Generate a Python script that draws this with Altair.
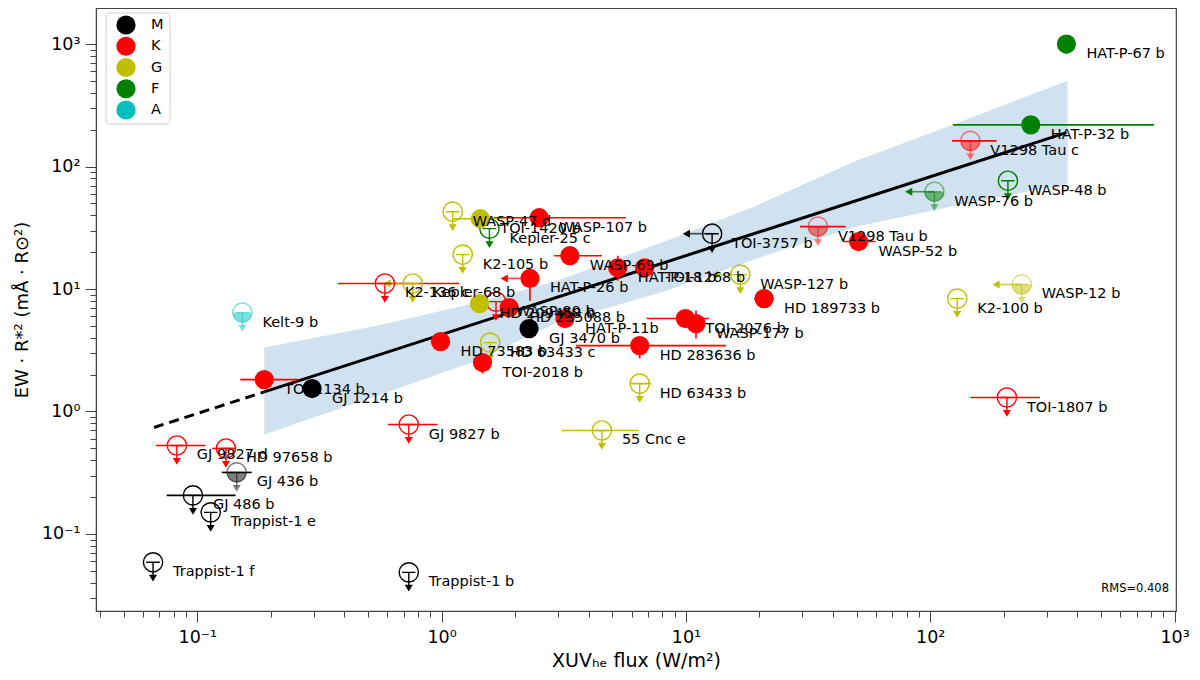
import altair as alt
import pandas as pd

# planets: name, XUV flux (W/m2), EW*R^2, stellar type, kind of point
names = ["HAT-P-67 b", "HAT-P-32 b", "V1298 Tau c", "WASP-48 b", "WASP-76 b",
         "TOI-3757 b", "V1298 Tau b", "WASP-52 b", "WASP-127 b", "HD 189733 b",
         "WASP-12 b", "K2-100 b", "TOI-1807 b", "55 Cnc e", "HD 63433 b",
         "HD 283636 b", "TOI-2076 b", "WASP-177 b", "HAT-P-11b", "HD 235088 b",
         "WASP-80 b", "HD 209458 b", "GJ 3470 b", "HD 73583 b", "HD 63433 c",
         "TOI-2018 b", "WASP-107 b", "TOI-1420 b", "WASP-47 d", "Kepler-25 c",
         "K2-105 b", "HAT-P-26 b", "WASP-69 b", "HAT-P-18 b", "TOI-1268 b",
         "K2-136 c", "Kepler-68 b", "Kelt-9 b", "TOI-1134 b", "GJ 1214 b",
         "GJ 9827 b", "GJ 9827 d", "HD 97658 b", "GJ 436 b", "GJ 486 b",
         "Trappist-1 e", "Trappist-1 f", "Trappist-1 b"]
flux = [361, 258, 146, 208, 104,
        12.8, 34.7, 50.9, 16.7, 20.9,
        237, 129, 206, 4.53, 6.47,
        6.47, 9.95, 11.0, 3.20, 1.89,
        1.67, 1.43, 2.28, 0.99, 1.58,
        1.47, 2.51, 1.44, 1.11, 1.57,
        1.22, 2.30, 3.35, 5.26, 6.78,
        0.586, 0.762, 0.153, 0.188, 0.295,
        0.734, 0.0825, 0.131, 0.145, 0.096,
        0.1135, 0.0659, 0.734]
ew = [1000, 219, 162, 76.6, 62.3,
      28.3, 32.3, 24.4, 13.1, 8.35,
      10.9, 8.35, 1.30, 0.700, 1.69,
      3.45, 5.74, 5.22, 5.74, 7.05,
      7.89, 7.60, 4.75, 3.72, 3.65,
      2.51, 38.2, 37.5, 42.8, 31.1,
      19.1, 12.2, 18.7, 14.9, 14.9,
      11.1, 11.1, 6.42, 1.82, 1.54,
      0.783, 0.528, 0.499, 0.318, 0.2065,
      0.150, 0.0587, 0.0486]
stype = ["F", "F", "K", "F", "F",
         "M", "K", "K", "G", "K",
         "G", "G", "K", "G", "G",
         "K", "K", "K", "K", "K",
         "K", "G", "M", "K", "G",
         "K", "K", "G", "G", "F",
         "G", "K", "K", "K", "K",
         "K", "G", "A", "K", "M",
         "K", "K", "K", "M", "M",
         "M", "M", "M"]
# det = detection, ul = upper limit, ulh = upper limit (half filled, faded)
kind = ["det", "det", "ulh", "ul", "ulh",
        "ul", "ulh", "det", "ul", "det",
        "ulh", "ul", "ul", "ul", "ul",
        "det", "det", "det", "det", "det",
        "ul", "det", "det", "det", "ul",
        "det", "det", "det", "ul", "ul",
        "ul", "det", "det", "det", "det",
        "ul", "ul", "ulh", "det", "det",
        "ul", "ul", "ul", "ulh", "ul",
        "ul", "ul", "ul"]
# flux given only as an upper limit (left arrow)
flux_lim = ["HAT-P-26 b", "TOI-3757 b", "WASP-127 b", "WASP-76 b", "WASP-12 b", "Kepler-68 b"]
# horizontal error bars
xerr_names = ["HAT-P-32 b", "V1298 Tau c", "V1298 Tau b", "WASP-52 b", "HD 189733 b",
              "TOI-1807 b", "55 Cnc e", "HD 63433 b", "HD 283636 b", "TOI-2076 b",
              "WASP-107 b", "TOI-1420 b", "WASP-69 b", "K2-136 c", "TOI-1134 b",
              "GJ 9827 b", "GJ 9827 d", "HD 97658 b", "GJ 436 b", "GJ 486 b"]
xerr_lo = [124, 123, 29.3, 43.8, 19.0,
           146, 3.11, 5.89, 3.55, 6.9,
           1.64, 1.11, 2.89, 0.377, 0.150,
           0.603, 0.0678, 0.115, 0.126, 0.075]
xerr_hi = [825, 187, 45.0, 59.7, 22.9,
           281, 6.41, 7.23, 14.6, 12.4,
           5.67, 1.77, 4.53, 1.18, 0.259,
           0.963, 0.108, 0.1435, 0.167, 0.1435]
# vertical error bars
yerr_names = ["HAT-P-67 b", "HD 283636 b", "WASP-177 b", "HAT-P-11b", "TOI-2018 b",
              "HAT-P-26 b", "HAT-P-18 b"]
yerr_lo = [830, 2.71, 3.94, 4.9, 2.04, 8.0, 11.7]
yerr_hi = [1100, 4.01, 6.67, 6.6, 3.0, 13.5, 18.7]

# fitted relation and its confidence band
fit_dash_x = [0.0665, 0.188]
fit_dash_y = [0.74, 1.445]
fit_x = [0.188, 361]
fit_y = [1.445, 189]
band_x = [0.188, 0.549, 1.40, 2.97, 8.33, 19.4, 49.5, 126, 365]
band_hi = [3.33, 5.03, 7.75, 11.7, 24.8, 47.9, 111, 223, 501]
band_lo = [0.649, 1.35, 2.61, 5.32, 9.70, 17.7, 32.3, 47.9, 72.4]

types = ["M", "K", "G", "F", "A"]
type_colors = ["black", "red", "#bfbf00", "green", "#00bfbf"]

df = pd.DataFrame({"name": names, "flux": flux, "ew": ew, "stype": stype, "kind": kind})
df["alpha"] = [0.5 if k == "ulh" else 1.0 for k in kind]
df["hex"] = df["stype"].map(dict(zip(types, type_colors)))
xerr = pd.DataFrame({"name": xerr_names, "lo": xerr_lo, "hi": xerr_hi}).merge(df, on="name")
yerr = pd.DataFrame({"name": yerr_names, "lo": yerr_lo, "hi": yerr_hi}).merge(df, on="name")
lims = df[df["name"].isin(flux_lim)]
ul = df[df["kind"] != "det"]
ulh = df[df["kind"] == "ulh"]
det = df[df["kind"] == "det"]
band = pd.DataFrame({"bx": band_x, "bhi": band_hi, "blo": band_lo})
fit_d = pd.DataFrame({"fx": fit_dash_x, "fy": fit_dash_y})
fit_s = pd.DataFrame({"fx": fit_x, "fy": fit_y})
leg = pd.DataFrame({"stype": types, "hex": type_colors})

xs = alt.Scale(type="log", domain=[0.0385, 1014], nice=False)
ys = alt.Scale(type="log", domain=[0.0235, 1970], nice=False)
S = 370  # marker size, radius = sqrt(S)/2

major = "abs(log(datum.value)/LN10 - round(log(datum.value)/LN10)) < 0.001"
lab = ("abs(datum.value-0.1)<0.000001 ? '10⁻¹' : abs(datum.value-1)<0.000001 ? '10⁰' : "
       "abs(datum.value-10)<0.000001 ? '10¹' : abs(datum.value-100)<0.000001 ? '10²' : "
       "abs(datum.value-1000)<0.000001 ? '10³' : ''")
ticksz = {"condition": {"test": major, "value": 11}, "value": 6}
xticks = [m * 10.0 ** d for d in range(-2, 4) for m in range(1, 10) if 0.0385 <= m * 10.0 ** d <= 1014]
yticks = [m * 10.0 ** d for d in range(-2, 4) for m in range(1, 10) if 0.0235 <= m * 10.0 ** d <= 1970]

x_axis = alt.Axis(values=xticks, labelExpr=lab, tickSize=ticksz, labelFlush=False,
                  labelOverlap=False, labelFontSize=17.5, labelPadding=6,
                  title="XUVₕₑ flux (W/m²)", titleFontSize=19, titlePadding=6)
y_axis = alt.Axis(values=yticks, labelExpr=lab, tickSize=ticksz, labelFlush=False,
                  labelOverlap=False, labelFontSize=17.5, labelPadding=5,
                  title="EW · R*² (mÅ · R⊙²)", titleFontSize=18, titlePadding=10)


def X(f):
    return alt.X(f"{f}:Q", scale=xs, axis=x_axis)


def Y(f):
    return alt.Y(f"{f}:Q", scale=ys, axis=y_axis)


col = alt.Color("hex:N", scale=None)
op = alt.Opacity("alpha:Q", scale=None)

STEM = "M -0.7 0 L 0.7 0 M 0 0 L 0 1.45"
HEAD = "M -0.42 1.3 L 0.42 1.3 L 0 2.0 Z"
HALF = "M -1 0 A 1 1 0 0 0 1 0 Z"
LSTEM = "M 0 0 L -2.5 0"
LHEAD = "M -2.3 -0.42 L -2.3 0.42 L -3.05 0 Z"

band_layer = alt.Chart(band).mark_area(color="#d0e2ef", opacity=1).encode(
    x=X("bx"), y=Y("bhi"), y2="blo:Q")
dash_layer = alt.Chart(fit_d).mark_line(color="black", strokeWidth=3, strokeDash=[10, 6]).encode(
    x=X("fx"), y=Y("fy"))
fit_layer = alt.Chart(fit_s).mark_line(color="black", strokeWidth=3).encode(x=X("fx"), y=Y("fy"))
xerr_layer = alt.Chart(xerr).mark_rule(strokeWidth=1.6).encode(
    x=X("lo"), x2="hi:Q", y=Y("ew"), color=col)
yerr_layer = alt.Chart(yerr).mark_rule(strokeWidth=1.6).encode(
    x=X("flux"), y=Y("lo"), y2="hi:Q", color=col)
lstem = alt.Chart(lims).mark_point(shape=LSTEM, filled=False, size=S, strokeWidth=1.6).encode(
    x=X("flux"), y=Y("ew"), color=col)
lhead = alt.Chart(lims).mark_point(shape=LHEAD, filled=True, size=S, opacity=1).encode(
    x=X("flux"), y=Y("ew"), color=col)
ustem = alt.Chart(ul).mark_point(shape=STEM, filled=False, size=S, strokeWidth=1.4).encode(
    x=X("flux"), y=Y("ew"), color=col, opacity=op)
uhead = alt.Chart(ul).mark_point(shape=HEAD, filled=True, size=S).encode(
    x=X("flux"), y=Y("ew"), color=col, opacity=op)
ucirc = alt.Chart(ul).mark_point(shape="circle", filled=False, size=S, strokeWidth=1.4).encode(
    x=X("flux"), y=Y("ew"), color=col, opacity=op)
uhalf = alt.Chart(ulh).mark_point(shape=HALF, filled=True, size=S, opacity=0.5).encode(
    x=X("flux"), y=Y("ew"), color=col)
dots = alt.Chart(det).mark_point(shape="circle", filled=True, size=S, opacity=1).encode(
    x=X("flux"), y=Y("ew"), color=col)
labels = alt.Chart(df).mark_text(align="left", baseline="middle", dx=20, dy=10,
                                 fontSize=14.5, font="DejaVu Sans", color="black").encode(
    x=X("flux"), y=Y("ew"), text="name:N")
rms = alt.Chart(pd.DataFrame({"t": ["RMS=0.408"]})).mark_text(
    align="right", baseline="middle", fontSize=11.5, font="DejaVu Sans", color="black").encode(
    x=alt.value(1073), y=alt.value(581), text="t:N")

main = alt.layer(band_layer, dash_layer, fit_layer, xerr_layer, yerr_layer, lstem, lhead,
                 ustem, uhead, ucirc, uhalf, dots, labels, rms)

# legend box (upper left of the plot)
leg_y = alt.Y("stype:N", scale=alt.Scale(domain=types, range=[17, 102], padding=0), axis=None)
leg_box = alt.Chart(pd.DataFrame({"k": [0]})).mark_rect(
    fill="white", stroke="#d0d0d0", strokeWidth=1, cornerRadius=4).encode(
    x=alt.value(10), x2=alt.value(74), y=alt.value(5), y2=alt.value(116))
leg_pts = alt.Chart(leg).mark_point(shape="circle", filled=True, size=S, opacity=1).encode(
    x=alt.value(30), y=leg_y, color=col)
leg_txt = alt.Chart(leg).mark_text(align="left", baseline="middle", fontSize=14.5,
                                   font="DejaVu Sans", color="black").encode(
    x=alt.value(55), y=leg_y, text="stype:N")

chart = alt.layer(main, leg_box, leg_pts, leg_txt).resolve_scale(
    x="independent", y="independent").properties(
    width=1080, height=603,
    autosize=alt.AutoSizeParams(type="none"),
    padding={"left": 88, "top": 0, "right": 16, "bottom": 61},
).configure_view(stroke="#444", strokeWidth=1.2).configure_axis(
    grid=False, domainColor="#444", tickColor="#444", labelColor="black", titleColor="black",
    labelFont="DejaVu Sans", titleFont="DejaVu Sans", titleFontWeight="normal")

chart.save("out.html", embed_options={"renderer": "svg", "actions": False})
